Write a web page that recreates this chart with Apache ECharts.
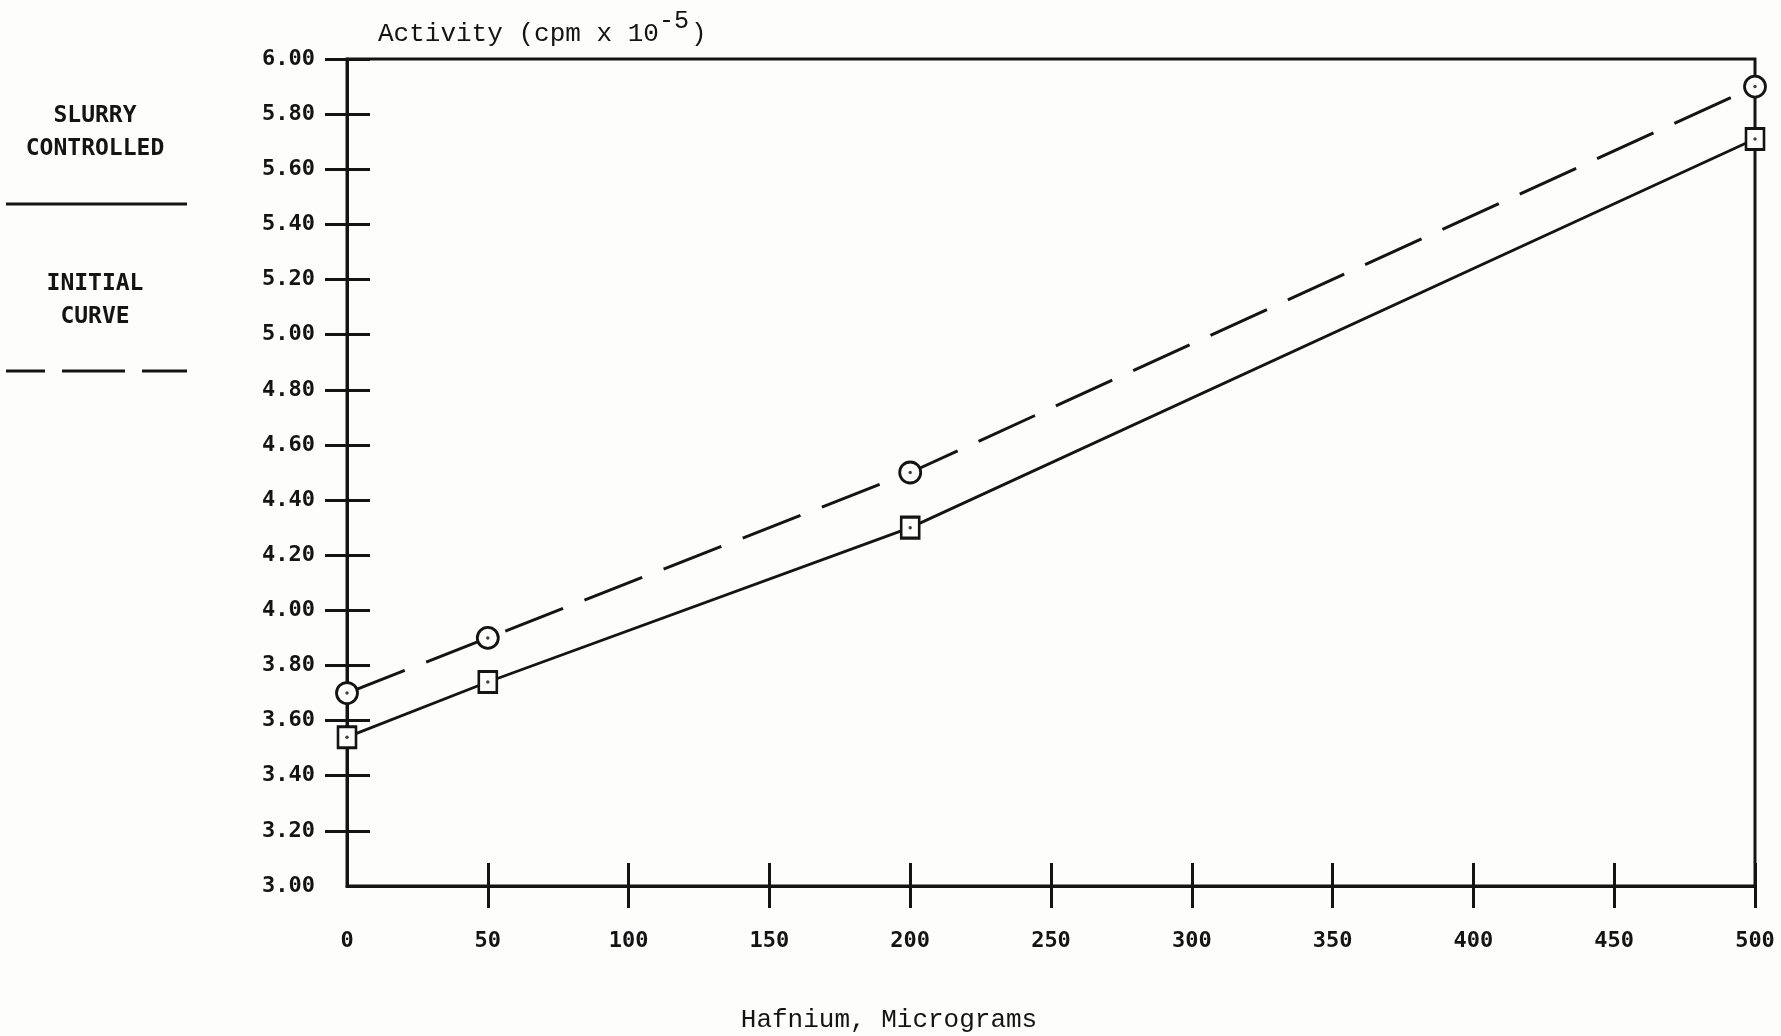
<!DOCTYPE html>
<html>
<head>
<meta charset="utf-8">
<script src="https://cdn.jsdelivr.net/npm/echarts@6/dist/echarts.min.js"></script>
<style>
html,body{margin:0;padding:0;background:#fdfdfc;}
#chart{width:1781px;height:1036px;}
</style>
</head>
<body>
<div id="chart"></div>
<script>
// Data
const hafnium = [0, 50, 200, 500];
const initialCurve = [3.70, 3.90, 4.50, 5.90];
const slurryControlled = [3.54, 3.74, 4.30, 5.71];
// Ticks that cross below / left of the axis lines (none at the origin corner)
const xOuterTicks = [50, 100, 150, 200, 250, 300, 350, 400, 450, 500];
const yOuterTicks = [3.2, 3.4, 3.6, 3.8, 4.0, 4.2, 4.4, 4.6, 4.8, 5.0, 5.2, 5.4, 5.6, 5.8, 6.0];
const yTitle = 'Activity (cpm x 10';
const ySup = '-5';
const xTitle = 'Hafnium, Micrograms';
const legendSolid = ['SLURRY', 'CONTROLLED'];
const legendDashed = ['INITIAL', 'CURVE'];

const ink = '#141414';
const paper = '#fdfdfc';
const plotFont = 'DejaVu Sans Mono';

const chart = echarts.init(document.getElementById('chart'), null, {renderer: 'canvas'});

const tickLabel = {
  formatter: v => v.toFixed(2),
  fontFamily: plotFont, fontWeight: 'bold', fontSize: 22, color: ink
};

const option = {
  backgroundColor: paper,
  animation: false,
  grid: {left: 347, right: 26, top: 59, bottom: 150, show: true, borderColor: ink, borderWidth: 3, backgroundColor: 'transparent'},
  xAxis: [
    {type: 'value', min: 0, max: 500, interval: 50, position: 'bottom',
     axisLine: {show: true, lineStyle: {color: ink, width: 3}},
     axisTick: {show: true, inside: false, length: 22, customValues: xOuterTicks, lineStyle: {color: ink, width: 3}},
     axisLabel: Object.assign({}, tickLabel, {formatter: v => String(v), margin: 44}),
     splitLine: {show: false}},
    {type: 'value', min: 0, max: 500, interval: 50, position: 'bottom',
     axisLine: {show: false},
     axisTick: {show: true, inside: true, length: 23, lineStyle: {color: ink, width: 3}},
     axisLabel: {show: false}, splitLine: {show: false}}
  ],
  yAxis: [
    {type: 'value', min: 3, max: 6, interval: 0.2, position: 'left',
     axisLine: {show: true, lineStyle: {color: ink, width: 3}},
     axisTick: {show: true, inside: false, length: 22, customValues: yOuterTicks, lineStyle: {color: ink, width: 3}},
     axisLabel: Object.assign({}, tickLabel, {margin: 32}),
     splitLine: {show: false}},
    {type: 'value', min: 3, max: 6, interval: 0.2, position: 'left', offset: 0,
     axisLine: {show: false},
     axisTick: {show: true, inside: true, length: 23, lineStyle: {color: ink, width: 3}},
     axisLabel: {show: false}, splitLine: {show: false}}
  ],
  series: [
    {type: 'line', name: 'INITIAL CURVE', clip: false, z: 3,
     data: hafnium.map((x, i) => [x, initialCurve[i]]),
     symbol: 'circle', symbolSize: 21,
     itemStyle: {color: paper, borderColor: ink, borderWidth: 2.8},
     lineStyle: {color: ink, width: 3, type: [62, 23]}},
    {type: 'line', name: 'SLURRY CONTROLLED', clip: false, z: 3,
     data: hafnium.map((x, i) => [x, slurryControlled[i]]),
     symbol: 'rect', symbolSize: [18, 21],
     itemStyle: {color: paper, borderColor: ink, borderWidth: 2.8},
     lineStyle: {color: ink, width: 2.8, type: 'solid'}},
    {type: 'scatter', clip: false, z: 4, symbolSize: 3.5, itemStyle: {color: ink},
     data: hafnium.map((x, i) => [x, initialCurve[i]]).concat(hafnium.map((x, i) => [x, slurryControlled[i]]))}
  ],
  graphic: [
    {type: 'text', left: 378, top: 21, style: {text: yTitle, font: '26px "Liberation Mono"', fill: ink}},
    {type: 'text', left: 659, top: 9, style: {text: ySup, font: '25px "Liberation Mono"', fill: ink}},
    {type: 'text', left: 691, top: 21, style: {text: ')', font: '26px "Liberation Mono"', fill: ink}},
    {type: 'text', x: 889, y: 1020, style: {text: xTitle, font: '26px "Liberation Mono"', fill: ink, align: 'center', verticalAlign: 'middle'}},
    {type: 'text', x: 95, y: 116, style: {text: legendSolid[0], font: 'bold 23px "DejaVu Sans Mono"', fill: ink, align: 'center', verticalAlign: 'middle'}},
    {type: 'text', x: 95, y: 149, style: {text: legendSolid[1], font: 'bold 23px "DejaVu Sans Mono"', fill: ink, align: 'center', verticalAlign: 'middle'}},
    {type: 'line', shape: {x1: 6, y1: 204, x2: 187, y2: 204}, style: {stroke: ink, lineWidth: 2.8}},
    {type: 'text', x: 95, y: 284, style: {text: legendDashed[0], font: 'bold 23px "DejaVu Sans Mono"', fill: ink, align: 'center', verticalAlign: 'middle'}},
    {type: 'text', x: 95, y: 317, style: {text: legendDashed[1], font: 'bold 23px "DejaVu Sans Mono"', fill: ink, align: 'center', verticalAlign: 'middle'}},
    {type: 'line', shape: {x1: 6, y1: 371, x2: 45, y2: 371}, style: {stroke: ink, lineWidth: 2.8}},
    {type: 'line', shape: {x1: 62, y1: 371, x2: 125, y2: 371}, style: {stroke: ink, lineWidth: 2.8}},
    {type: 'line', shape: {x1: 142, y1: 371, x2: 187, y2: 371}, style: {stroke: ink, lineWidth: 2.8}}
  ]
};
chart.setOption(option);
</script>
</body>
</html>
